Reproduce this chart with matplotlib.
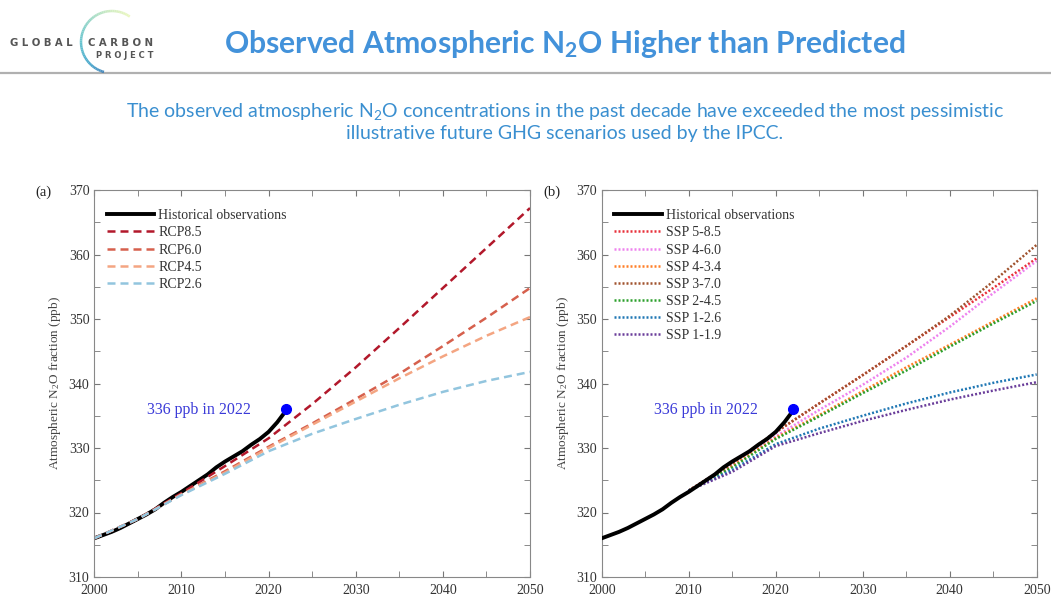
import numpy as np
import matplotlib
matplotlib.use('Agg')
import matplotlib.pyplot as plt

matplotlib.rcParams.update({'font.family': 'Liberation Serif', 'font.size': 9,
                            'mathtext.default': 'regular'})

# historical observations (ppb)
hist_years = np.arange(2000, 2023)
hist_vals = [316.0, 316.5, 317.0, 317.6, 318.3, 319.0, 319.7, 320.5, 321.5, 322.4,
             323.2, 324.1, 325.0, 325.9, 327.0, 327.9, 328.7, 329.5, 330.5, 331.4,
             332.5, 334.0, 335.8]

# RCP scenarios
rcp_years = [2000, 2005, 2010, 2015, 2020, 2025, 2030, 2035, 2040, 2045, 2050]
rcp85 = [316.0, 319.0, 323.0, 327.2, 331.5, 336.8, 342.5, 348.6, 354.8, 361.0, 367.2]
rcp60 = [316.0, 319.0, 322.8, 326.4, 330.2, 333.8, 337.6, 341.5, 345.8, 350.2, 354.8]
rcp45 = [316.0, 319.0, 322.8, 326.2, 330.0, 333.6, 337.2, 340.8, 344.2, 347.4, 350.3]
rcp26 = [316.0, 319.0, 322.7, 326.0, 329.5, 332.2, 334.5, 336.7, 338.7, 340.4, 341.8]
rcp_names = ['RCP8.5', 'RCP6.0', 'RCP4.5', 'RCP2.6']
rcp_colors = ['#b2182b', '#d6604d', '#f4a582', '#92c5de']

# SSP scenarios
ssp_years = [2010, 2015, 2020, 2025, 2030, 2035, 2040, 2045, 2050]
ssp585 = [323.4, 327.6, 332.4, 336.9, 341.3, 345.8, 350.3, 354.8, 359.4]
ssp460 = [323.4, 327.3, 331.8, 335.9, 339.8, 344.0, 348.8, 354.0, 359.0]
ssp434 = [323.4, 327.2, 331.6, 335.1, 338.8, 342.5, 346.0, 349.6, 353.2]
ssp370 = [323.4, 327.6, 332.5, 336.9, 341.3, 345.8, 350.5, 355.8, 361.5]
ssp245 = [323.4, 327.0, 331.4, 334.9, 338.5, 342.0, 345.7, 349.3, 352.8]
ssp126 = [323.4, 326.6, 330.6, 333.0, 335.0, 336.9, 338.6, 340.1, 341.4]
ssp119 = [323.4, 326.3, 330.3, 332.3, 334.2, 335.9, 337.5, 338.9, 340.2]
ssp_names = ['SSP 5-8.5', 'SSP 4-6.0', 'SSP 4-3.4', 'SSP 3-7.0', 'SSP 2-4.5', 'SSP 1-2.6', 'SSP 1-1.9']
ssp_colors = ['#e8303a', '#ee82ee', '#ff7f27', '#a0522d', '#2ca02c', '#1f77b4', '#6a3d9a']

W, H = 1051, 599
fig = plt.figure(figsize=(W / 100, H / 100), dpi=100)

# header overlay in pixel coordinates
hd = fig.add_axes([0, 0, 1, 1])
hd.set_xlim(0, W)
hd.set_ylim(H, 0)
hd.axis('off')
hd.plot([0, W], [73, 73], color='#b0b0b0', lw=1.6)
th = np.linspace(np.radians(55), np.radians(255), 60)
cx, cy, r = 112, 42, 31
arc_cols = plt.cm.YlGnBu(np.linspace(0.15, 0.7, len(th) - 1))
for i in range(len(th) - 1):
    hd.plot(cx + r * np.cos(th[i:i + 2]), cy - r * np.sin(th[i:i + 2]),
            color=arc_cols[i], lw=1.8, alpha=0.8, solid_capstyle='butt')
hd.text(10, 43, 'G L O B A L', fontsize=7.3, fontweight='bold', color='#555555',
        family='DejaVu Sans', va='center', ha='left')
hd.text(88, 43, 'C A R B O N', fontsize=7.3, fontweight='bold', color='#555555',
        family='DejaVu Sans', va='center', ha='left')
hd.text(153, 56, 'P R O J E C T', fontsize=6, fontweight='bold', color='#555555',
        family='DejaVu Sans', va='center', ha='right')
hd.text(565, 44, 'Observed Atmospheric N$_2$O Higher than Predicted', fontsize=21.7,
        fontweight='bold', color='#4392da', family='Lato', ha='center', va='center')
hd.text(565, 111, 'The observed atmospheric N$_2$O concentrations in the past decade have exceeded the most pessimistic',
        fontsize=14, color='#3a8fd0', family='Lato', ha='center', va='center')
hd.text(565, 133, 'illustrative future GHG scenarios used by the IPCC.',
        fontsize=14, color='#3a8fd0', family='Lato', ha='center', va='center')


def style_axes(ax, tag):
    ax.set_xlim(2000, 2050)
    ax.set_ylim(310, 370)
    ax.set_xticks(range(2000, 2051, 10))
    ax.set_xticks(range(2000, 2051, 5), minor=True)
    ax.set_yticks(range(310, 371, 10))
    ax.set_yticks(range(310, 371, 5), minor=True)
    ax.tick_params(which='both', direction='in', top=True, right=True, length=4,
                   colors='#777777', labelcolor='#333333', labelsize=10)
    ax.tick_params(axis='x', pad=5)
    for s in ax.spines.values():
        s.set_color('#888888')
    ax.set_ylabel('Atmospheric N$_2$O fraction (ppb)', fontsize=9.5, color='#444444', labelpad=4)
    ax.text(-0.135, 0.993, tag, transform=ax.transAxes, fontsize=10.5, color='#222222', va='center')
    ax.text(2018, 335.9, '336 ppb in 2022', color='#3a3ad8', fontsize=11.5, ha='right', va='center')


ax1 = fig.add_axes([94.3 / W, 1 - 577 / H, 435.7 / W, 387 / H])
ax2 = fig.add_axes([601.7 / W, 1 - 577 / H, 435 / W, 387 / H])

ax1.plot(hist_years, hist_vals, color='black', lw=2.8, label='Historical observations')
for vals, name, col in zip([rcp85, rcp60, rcp45, rcp26], rcp_names, rcp_colors):
    ax1.plot(rcp_years, vals, color=col, lw=1.8, dashes=(3.2, 2.0), label=name)
ax1.plot(2022, 336, 'o', color='#0000ff', ms=7, zorder=5)
style_axes(ax1, '(a)')

ax2.plot(hist_years, hist_vals, color='black', lw=2.8, label='Historical observations', zorder=3)
for vals, name, col in zip([ssp585, ssp460, ssp434, ssp370, ssp245, ssp126, ssp119], ssp_names, ssp_colors):
    ax2.plot(ssp_years, vals, color=col, lw=1.8, linestyle=(0, (0.8, 0.8)), label=name)
ax2.plot(2022, 336, 'o', color='#0000ff', ms=7, zorder=5)
style_axes(ax2, '(b)')

for ax in (ax1, ax2):
    leg = ax.legend(loc='upper left', bbox_to_anchor=(0.01, 0.972), frameon=False, fontsize=10,
                    handlelength=3.4, handletextpad=0.3, labelspacing=0.3, borderaxespad=0.2)
    for t in leg.get_texts():
        t.set_color('#333333')

fig.savefig('out.png', dpi=100)
